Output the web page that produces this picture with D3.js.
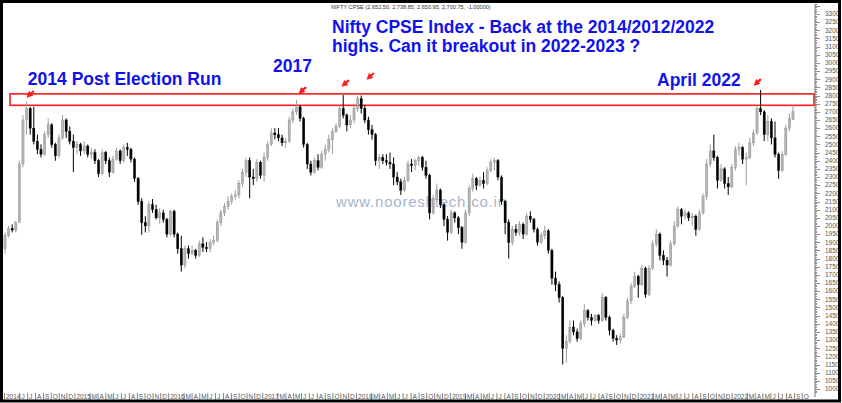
<!DOCTYPE html>
<html><head><meta charset="utf-8">
<script src="https://cdn.jsdelivr.net/npm/d3@7"></script>
<style>
html,body{margin:0;padding:0;background:#fff;}
svg{display:block;}
</style></head>
<body><svg id="c" width="842" height="403"></svg>
<script>
// ---- data (bi-weekly bars) ----
const startDate = new Date(2014, 3, 6);
const barStepDays = 14;
const open  = [1860,1940,1985,1975,2020,2380,2650,2720,2600,2520,2470,2440,2560,2620,2500,2430,2540,2650,2580,2520,2480,2500,2460,2490,2440,2450,2400,2320,2450,2400,2330,2410,2460,2400,2480,2470,2410,2290,2150,2020,2000,2130,2100,2050,2080,2040,1950,2090,1950,1860,1760,1860,1830,1850,1820,1890,1870,1860,1900,1910,2020,2080,2120,2150,2180,2190,2260,2330,2400,2300,2290,2390,2310,2420,2500,2570,2560,2540,2510,2520,2650,2700,2730,2660,2500,2380,2330,2400,2360,2440,2470,2530,2580,2610,2720,2680,2620,2650,2720,2780,2720,2650,2590,2560,2400,2420,2400,2390,2380,2300,2270,2220,2280,2380,2370,2400,2420,2360,2310,2080,2170,2220,2130,2040,1960,2080,2050,1990,1900,2080,2230,2290,2250,2280,2260,2340,2390,2400,2300,2150,2020,1900,1980,1960,2010,1950,2060,2040,1980,1900,1940,1970,1850,1680,1640,1560,1250,1290,1380,1350,1310,1400,1480,1440,1420,1450,1420,1560,1440,1360,1310,1300,1320,1440,1540,1630,1690,1640,1740,1580,1740,1890,1950,1820,1790,1760,1890,2000,2100,2060,2080,2050,2060,1980,2080,2180,2380,2460,2420,2280,2350,2260,2240,2360,2470,2480,2410,2420,2510,2570,2720,2700,2560,2640,2540,2440,2340,2440,2600,2652.5];
const high  = [1960,2000,2010,2030,2400,2680,2762,2730,2730,2560,2500,2580,2660,2630,2510,2560,2680,2660,2610,2560,2520,2510,2520,2500,2480,2470,2410,2470,2460,2420,2430,2480,2470,2500,2510,2480,2420,2300,2170,2060,2150,2165,2130,2110,2100,2050,2100,2100,1960,1940,1880,1880,1880,1860,1910,1930,1900,1920,1940,2040,2100,2140,2180,2200,2220,2280,2350,2420,2420,2350,2410,2400,2450,2520,2600,2600,2600,2560,2540,2670,2720,2772,2740,2670,2510,2400,2420,2440,2460,2500,2560,2600,2630,2740,2803,2690,2680,2740,2800,2800,2740,2670,2620,2570,2440,2440,2440,2450,2420,2330,2290,2300,2400,2410,2410,2430,2430,2400,2320,2190,2260,2230,2140,2060,2100,2090,2060,2000,2100,2250,2320,2300,2300,2330,2360,2410,2420,2410,2310,2160,2040,2000,2010,2030,2020,2080,2090,2050,1990,1960,2000,1980,1860,1720,1660,1570,1330,1420,1420,1370,1420,1520,1490,1460,1460,1460,1590,1570,1450,1370,1330,1340,1460,1560,1650,1720,1700,1760,1750,1760,1910,1980,1960,1850,1810,1910,2030,2120,2110,2100,2090,2080,2070,2100,2200,2410,2500,2560,2430,2380,2360,2300,2380,2490,2510,2490,2450,2540,2590,2740,2834,2710,2680,2660,2640,2450,2460,2620,2690,2738.85];
const low   = [1830,1930,1960,1960,2040,2360,2560,2560,2500,2440,2420,2430,2540,2480,2400,2420,2530,2540,2500,2330,2440,2430,2440,2420,2410,2380,2300,2310,2380,2300,2320,2400,2380,2390,2430,2390,2270,2130,1945,1960,1960,2080,2040,2010,2020,1930,1940,1930,1830,1720,1740,1800,1820,1800,1810,1840,1840,1840,1880,1900,2000,2060,2100,2130,2160,2170,2240,2300,2170,2250,2270,2290,2270,2400,2490,2530,2520,2490,2480,2510,2630,2680,2640,2480,2350,2310,2320,2340,2350,2400,2450,2440,2570,2600,2660,2580,2600,2630,2700,2690,2630,2560,2530,2370,2350,2380,2370,2350,2250,2250,2190,2210,2270,2330,2340,2370,2340,2290,2040,2070,2150,2110,2000,1910,1950,2020,1950,1860,1890,2060,2210,2220,2240,2230,2250,2330,2340,2280,2130,1950,1800,1880,1940,1940,1920,1940,2020,1960,1880,1890,1920,1830,1640,1600,1530,1150,1160,1280,1330,1290,1300,1380,1420,1390,1410,1400,1410,1420,1330,1290,1270,1280,1310,1430,1520,1620,1560,1630,1560,1570,1730,1870,1790,1760,1690,1750,1880,1990,2010,2040,2030,2000,1940,1970,2070,2160,2360,2400,2230,2270,2230,2190,2230,2340,2430,2380,2250,2410,2490,2560,2680,2520,2520,2500,2420,2290,2330,2430,2580,2650.95];
const close = [1940,1985,1975,2020,2380,2650,2720,2600,2520,2470,2440,2560,2620,2500,2430,2540,2650,2580,2520,2480,2500,2460,2490,2440,2450,2400,2320,2450,2400,2330,2410,2460,2400,2480,2470,2410,2290,2150,2020,2000,2130,2100,2050,2080,2040,1950,2090,1950,1860,1760,1860,1830,1850,1820,1890,1870,1860,1900,1910,2020,2080,2120,2150,2180,2190,2260,2330,2400,2300,2290,2390,2310,2420,2500,2570,2560,2540,2510,2520,2650,2700,2730,2660,2500,2380,2330,2400,2360,2440,2470,2530,2580,2610,2720,2680,2620,2650,2720,2780,2720,2650,2590,2560,2400,2420,2400,2390,2380,2300,2270,2220,2280,2380,2370,2400,2420,2360,2310,2080,2170,2220,2130,2040,1960,2080,2050,1990,1900,2080,2230,2290,2250,2280,2260,2340,2390,2400,2300,2150,2020,1900,1980,1960,2010,1950,2060,2040,1980,1900,1940,1970,1850,1680,1640,1560,1250,1290,1380,1350,1310,1400,1480,1440,1420,1450,1420,1560,1440,1360,1310,1300,1320,1440,1540,1630,1690,1640,1740,1580,1740,1890,1950,1820,1790,1760,1890,2000,2100,2060,2080,2050,2060,1980,2080,2180,2380,2460,2420,2280,2350,2260,2240,2360,2470,2480,2410,2420,2510,2570,2720,2700,2560,2640,2540,2440,2340,2440,2600,2660,2700.75];

const yTicks = [1000,1050,1100,1150,1200,1250,1300,1350,1400,1450,1500,1550,1600,1650,1700,1750,1800,1850,1900,1950,2000,2050,2100,2150,2200,2250,2300,2350,2400,2450,2500,2550,2600,2650,2700,2750,2800,2850,2900,2950,3000,3050,3100,3150,3200,3250,3300];
const monthLetters = ["J","F","M","A","M","J","J","A","S","O","N","D"];
const axisEnd = new Date(2022, 10, 1);
const resistanceZone = [2740, 2810];
const headerText = "NIFTY CPSE (2,652.50, 2,738.85, 2,650.95, 2,700.75, -1.00000)";
const titleLines = ["Nifty CPSE Index - Back at the 2014/2012/2022", "highs. Can it breakout in 2022-2023 ?"];
const notes = [
  {text: "2014 Post Election Run", date: new Date(2014, 6, 4), value: 2865},
  {text: "2017", date: new Date(2017, 1, 12), value: 2944},
  {text: "April 2022", date: new Date(2021, 2, 17), value: 2858}
];
const arrowTips = [
  {date: new Date(2014, 5, 30), value: 2791},
  {date: new Date(2017, 4, 24), value: 2815},
  {date: new Date(2017, 10, 7), value: 2858},
  {date: new Date(2018, 1, 12), value: 2901},
  {date: new Date(2022, 2, 29), value: 2864}
];
const watermark = "www.nooreshtech.co.in";

// ---- drawing ----
const W = 842, H = 403;
const svg = d3.select("#c");
const font = "'Liberation Sans', Arial, Helvetica, sans-serif";
const dates = open.map((d, i) => d3.timeDay.offset(startDate, i * barStepDays));
const x = d3.scaleTime().domain([dates[0], dates[dates.length - 1]]).range([5, 793]);
const y = d3.scaleLinear().domain([1000, 3300]).range([389, 14]);

svg.append("rect").attr("width", W).attr("height", H).attr("fill", "#fff");

// watermark
svg.append("text").attr("x", 336).attr("y", 207)
  .attr("font-family", font).attr("font-size", 15).attr("fill", "#a7b5cf")
  .attr("textLength", 170).attr("lengthAdjust", "spacing")
  .text(watermark);

// red resistance box
svg.append("rect")
  .attr("x", 10).attr("y", y(resistanceZone[1]))
  .attr("width", 804).attr("height", y(resistanceZone[0]) - y(resistanceZone[1]))
  .attr("fill", "none").attr("stroke", "#ff1a1a").attr("stroke-width", 1.6);

// candles
const bars = svg.append("g");
const bw = 2.2;
open.forEach((o, i) => {
  const c = close[i], up = c >= o;
  const cx = x(dates[i]);
  bars.append("line").attr("x1", cx).attr("x2", cx)
    .attr("y1", y(high[i])).attr("y2", y(low[i]))
    .attr("stroke", up ? "#9c9c9c" : "#000").attr("stroke-width", 1);
  const top = y(Math.max(o, c)), bot = y(Math.min(o, c));
  bars.append("rect").attr("x", cx - bw / 2).attr("y", top)
    .attr("width", bw).attr("height", Math.max(1, bot - top))
    .attr("fill", up ? "#b4b4b4" : "#000")
    .attr("stroke", up ? "#8a8a8a" : "#000").attr("stroke-width", 0.4);
});

// arrows
const defs = svg.append("defs");
defs.append("marker").attr("id", "ah").attr("viewBox", "0 0 10 10")
  .attr("refX", 5).attr("refY", 5).attr("markerWidth", 3).attr("markerHeight", 3)
  .attr("orient", "auto")
  .append("path").attr("d", "M0,0 L10,5 L0,10 z").attr("fill", "#ff1a1a");
arrowTips.forEach(a => {
  const hx = x(a.date), hy = y(a.value);
  svg.append("line").attr("x1", hx + 7).attr("y1", hy - 6)
    .attr("x2", hx + 2).attr("y2", hy - 1.5)
    .attr("stroke", "#ff1a1a").attr("stroke-width", 2.2)
    .attr("marker-end", "url(#ah)");
});

// right axis
const ax = 815;
svg.append("line").attr("x1", ax).attr("x2", ax).attr("y1", 4).attr("y2", 397)
  .attr("stroke", "#777").attr("stroke-width", 1);
const minor = d3.range(980, 3371, 10);
svg.append("g").selectAll("line").data(minor).join("line")
  .attr("x1", ax).attr("x2", d => ax + (d % 50 === 0 ? 5 : 2))
  .attr("y1", d => Math.round(y(d)) + 0.5).attr("y2", d => Math.round(y(d)) + 0.5)
  .attr("stroke", "#777").attr("stroke-width", 0.8)
  .filter(d => y(d) < 4 || y(d) > 397).remove();
svg.append("g").selectAll("text").data(yTicks).join("text")
  .attr("x", 825).attr("y", d => y(d) + 2.3)
  .attr("font-family", font).attr("font-size", 6.5).attr("fill", "#555")
  .text(d => d);

// bottom axis (months)
const months = d3.timeMonth.range(d3.timeMonth.ceil(dates[0]), axisEnd)
  .filter(m => m.getMonth() !== 1 && x(m) > 18);
const ticks = [{d: dates[0], label: "2014", x: 4}].concat(months.map(m => ({
  d: m, x: x(m), label: m.getMonth() === 0 ? String(m.getFullYear()) : monthLetters[m.getMonth()]
})));
const xg = svg.append("g");
ticks.forEach(t => {
  xg.append("line").attr("x1", t.x + 0.5).attr("x2", t.x + 0.5).attr("y1", 393).attr("y2", 400)
    .attr("stroke", "#666").attr("stroke-width", 0.8);
  xg.append("text").attr("x", t.x + 2).attr("y", 399)
    .attr("font-family", font).attr("font-size", 6.5).attr("fill", "#555")
    .text(t.label);
});

// header + titles
svg.append("text").attr("x", 331).attr("y", 9)
  .attr("font-family", font).attr("font-size", 5.6).attr("fill", "#333").text(headerText);
titleLines.forEach((t, i) => {
  svg.append("text").attr("x", 332).attr("y", 33 + i * 19)
    .attr("font-family", font).attr("font-size", 17.5).attr("font-weight", "bold")
    .attr("fill", "#1111ee").text(t);
});
notes.forEach(n => {
  svg.append("text").attr("x", x(n.date)).attr("y", y(n.value))
    .attr("font-family", font).attr("font-size", 17.5).attr("font-weight", "bold")
    .attr("fill", "#1111ee").text(n.text);
});

// black frame
svg.append("rect").attr("x", 1.5).attr("y", 1.5).attr("width", W - 4).attr("height", H - 3.5)
  .attr("fill", "none").attr("stroke", "#000").attr("stroke-width", 3);
</script></body></html>
